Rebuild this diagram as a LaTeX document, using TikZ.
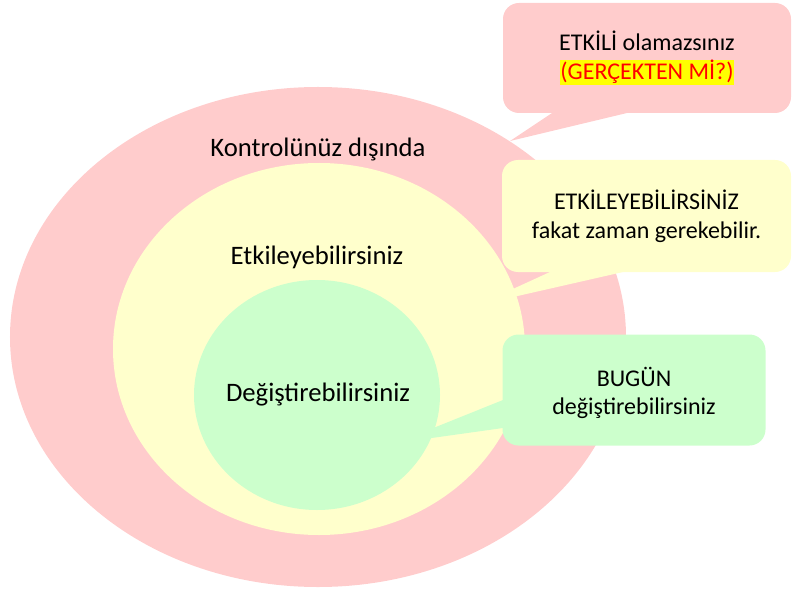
\documentclass[tikz,border=0pt]{standalone}
\usepackage{fontspec}
\setmainfont{Carlito}
\definecolor{pinkc}{HTML}{FFCCCC}
\definecolor{yellowc}{HTML}{FFFFCC}
\definecolor{greenc}{HTML}{CCFFCC}
\definecolor{hl}{HTML}{FFFF00}
\definecolor{redt}{HTML}{FF0000}
\setlength{\fboxsep}{0pt}
\begin{document}
\begin{tikzpicture}[x=1bp,y=-1bp,
  callout/.style={rectangle, rounded corners=16bp, align=center, inner sep=0pt,
    font=\fontsize{24bp}{29bp}\selectfont},
  lbl/.style={font=\fontsize{26.67bp}{32bp}\selectfont, anchor=base, inner sep=0pt}]
\useasboundingbox (0,0) rectangle (792,589);
% outer zone
\fill[pinkc] (318,337) ellipse [x radius=308bp, y radius=250bp];
\node[callout, fill=pinkc, minimum width=288bp, minimum height=110bp] (c1) at (647,58)
  {ETKİLİ olamazsınız\\\textcolor{redt}{\colorbox{hl}{\rule[-6bp]{0pt}{25bp}(GERÇEKTEN Mİ?)}}};
\coordinate (t1) at (510,141);
\fill[pinkc] (t1) -- (552,113) -- (627,113) -- cycle;
% middle zone
\fill[yellowc] (319,349) ellipse [x radius=206bp, y radius=186bp];
\node[callout, fill=yellowc, minimum width=289bp, minimum height=112bp] (c2) at (646.5,216)
  {ETKİLEYEBİLİRSİNİZ\\fakat zaman gerekebilir.};
\coordinate (t2) at (478,305);
\fill[yellowc] (t2) -- (550,272) -- (623,272) -- cycle;
% inner zone
\fill[greenc] (317,395) ellipse [x radius=123bp, y radius=115bp];
\node[callout, fill=greenc, minimum width=263bp, minimum height=111bp] (c3) at (634,390) {};
\node[callout, font=\fontsize{24bp}{28bp}\selectfont] (c3t) at (634,392.5)
  {BUGÜN\\değiştirebilirsiniz};
\coordinate (t3) at (396,443);
\fill[greenc] (t3) -- (503,400) -- (503,428) -- cycle;
% labels
\node[lbl] (l1) at (318,156.5) {Kontrolünüz dışında};
\node[lbl] (l2) at (317,264.5) {Etkileyebilirsiniz};
\node[lbl] (l3) at (318,401.5) {Değiştirebilirsiniz};
\end{tikzpicture}
\end{document}
